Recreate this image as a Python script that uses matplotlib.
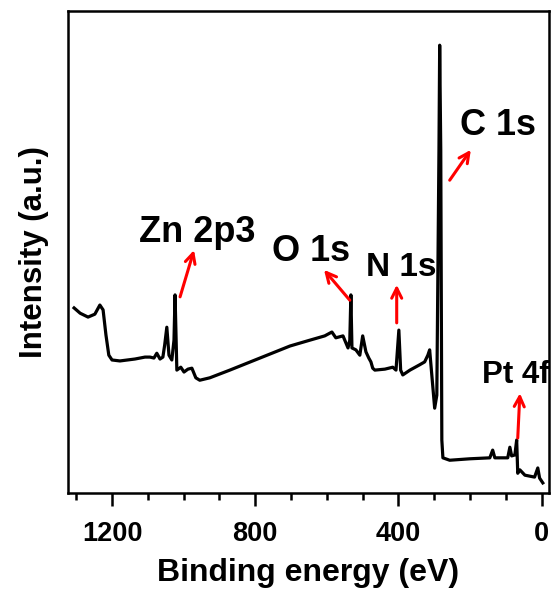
import numpy as np
import matplotlib.pyplot as plt
from matplotlib.ticker import MultipleLocator

plt.rcParams['font.family'] = ['Liberation Sans', 'DejaVu Sans']
plt.rcParams['font.weight'] = 'bold'

# XPS survey spectrum (binding energy in eV, intensity in a.u.)
energy = [1306, 1289, 1267, 1248, 1234, 1225, 1217, 1209, 1200, 1178, 1136, 1108,
          1094, 1083, 1075, 1066, 1058, 1053, 1047, 1041, 1033, 1027, 1024, 1021,
          1019, 1008, 999, 988, 977, 966, 955, 927, 871, 787, 703, 648, 606, 586,
          575, 555, 541, 536, 533, 530, 519, 508, 500, 491, 483, 477, 472, 466,
          438, 416, 407, 399, 394, 388, 368, 341, 327, 318, 313, 307, 299, 293,
          287, 285, 282, 279, 276, 257, 201, 145, 137, 131, 95, 89, 84, 75, 70,
          67, 61, 47, 20, 11, 6, -3]
intensity = [38.4, 37.3, 36.5, 37.1, 39.0, 38.0, 32.8, 28.6, 27.6, 27.4, 27.8, 28.2,
             28.2, 28.0, 29.0, 27.8, 28.2, 30.7, 34.4, 28.6, 27.6, 31.7, 41.1, 31.7,
             25.5, 26.1, 25.1, 25.7, 25.9, 23.9, 23.4, 23.9, 25.5, 28.0, 30.5, 31.7,
             32.6, 33.4, 32.2, 32.6, 30.1, 31.7, 41.1, 30.1, 29.7, 28.6, 32.6, 29.3,
             28.0, 27.2, 25.9, 25.5, 25.7, 26.1, 25.5, 33.8, 25.5, 24.5, 25.5, 26.6,
             27.2, 28.6, 29.7, 24.5, 17.6, 20.3, 71.2, 92.9, 71.2, 11.0, 7.3, 6.8,
             7.1, 7.3, 8.9, 7.3, 7.3, 9.5, 7.7, 7.9, 11.0, 4.1, 4.8, 3.7, 3.3, 5.2,
             3.1, 2.1]

# peak labels: text, size, text position, arrow tail, arrow head
labels = ["C 1s", "Zn 2p3", "O 1s", "N 1s", "Pt 4f"]
label_size = [26, 26, 26, 24, 22.5]
text_xy = [(123, 76.3), (963, 54.1), (645, 50.2), (391, 46.7), (72, 24.5)]
arrow_from = [(257, 64.9), (1010, 40.7), (536, 40.0), (405, 35.3), (67, 11.4)]
arrow_to = [(198, 71.2), (971, 50.4), (608, 46.3), (405, 43.2), (61, 20.7)]

fig = plt.figure(figsize=(5.55, 5.95), dpi=100)
ax = fig.add_axes([0.1225, 0.1714, 0.8665, 0.8101])

ax.plot(energy, intensity, color='black', lw=2.3)

for lab, fs, t, a, b in zip(labels, label_size, text_xy, arrow_from, arrow_to):
    ax.text(t[0], t[1], lab, fontsize=fs, fontweight='bold',
            ha='center', va='center')
    ax.annotate('', xy=b, xytext=a,
                arrowprops=dict(arrowstyle='->', color='red', lw=2.2,
                                mutation_scale=18, shrinkA=0, shrinkB=0))

ax.set_xlim(1323, -20)
ax.set_ylim(0, 100)
ax.xaxis.set_major_locator(MultipleLocator(400))
ax.xaxis.set_minor_locator(MultipleLocator(100))
ax.set_yticks([])
ax.tick_params(axis='x', which='major', direction='out', length=9, width=1.8,
               labelsize=19.5, pad=11)
ax.tick_params(axis='x', which='minor', direction='out', length=5, width=1.8)
for s in ax.spines.values():
    s.set_linewidth(1.8)

ax.set_xlabel("Binding energy (eV)", fontsize=23, fontweight='bold', labelpad=8)
ax.set_ylabel("Intensity (a.u.)", fontsize=22.5, fontweight='bold', labelpad=14)

fig.savefig("out.png", dpi=100)
